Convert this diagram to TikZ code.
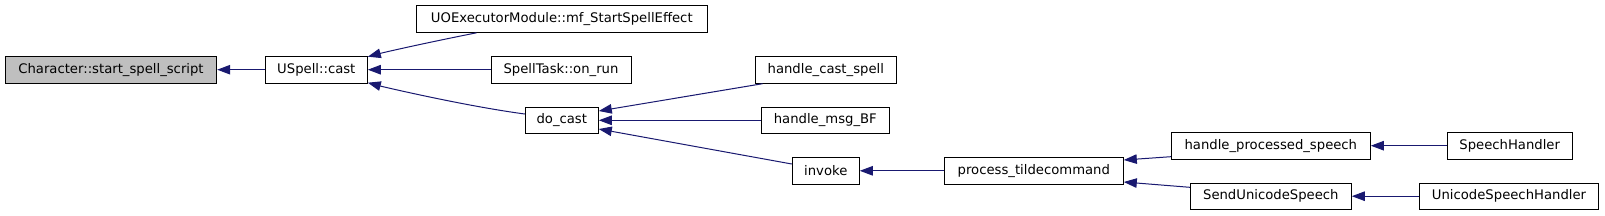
\documentclass[tikz,border=0pt]{standalone}
\usepackage{fontspec}
\setmainfont{DejaVu Sans}
\usetikzlibrary{arrows.meta}
\definecolor{edgeblue}{HTML}{191970}
\definecolor{hlgray}{HTML}{BFBFBF}
\tikzset{
  fn/.style={draw=black, line width=1pt, fill=white, inner sep=0pt, minimum height=27pt, font=\fontsize{13.2}{15}\selectfont},
  edge/.style={draw=edgeblue, line width=1pt, -{Triangle[length=13pt,width=9.5pt]}},
}
\begin{document}
\begin{tikzpicture}[x=1pt,y=-1pt]
\useasboundingbox (0,0) rectangle (1605,215);
\node[fn, fill=hlgray, minimum width=211.4pt] (ch) at (111,69.7) {Character::start\_spell\_script};
\node[fn, minimum width=102pt] (cast) at (316.3,69.7) {USpell::cast};
\node[fn, minimum width=291pt] (uo) at (561.8,18.8) {UOExecutorModule::mf\_StartSpellEffect};
\node[fn, minimum width=140pt] (st) at (561,69.7) {SpellTask::on\_run};
\node[fn, minimum width=73pt, minimum height=26pt] (dc) at (561.8,120.3) {do\_cast};
\node[fn, minimum width=141pt] (hcs) at (825.8,69.7) {handle\_cast\_spell};
\node[fn, minimum width=128pt, minimum height=26pt] (hmb) at (825.3,120.3) {handle\_msg\_BF};
\node[fn, minimum width=67pt] (inv) at (825.8,170.8) {invoke};
\node[fn, minimum width=179pt] (pt) at (1033.8,170.8) {process\_tildecommand};
\node[fn, minimum width=199pt, minimum height=26.7pt] (hps) at (1270.8,145.7) {handle\_processed\_speech};
\node[fn, minimum width=125.3pt, minimum height=26.7pt] (sh) at (1509.7,145.7) {SpeechHandler};
\node[fn, minimum width=161pt, minimum height=25.7pt] (sus) at (1270.8,196.2) {SendUnicodeSpeech};
\node[fn, minimum width=179.4pt, minimum height=25.7pt] (ush) at (1509,196.2) {UnicodeSpeechHandler};
\draw[edge] (cast.west) -- (ch.east);
\draw[edge] ([xshift=60.7pt]uo.south west) .. controls +(-60,12) and +(15,-4) .. ([yshift=-1pt]cast.north east);
\draw[edge] (st.west) -- (cast.east);
\draw[edge] ([yshift=6.3pt]dc.west) .. controls +(-60,-8) and +(15,4) .. ([yshift=1pt]cast.south east);
\draw[edge] ([xshift=7.7pt]hcs.south west) -- ([yshift=9.3pt]dc.east);
\draw[edge] (hmb.west) -- (dc.east);
\draw[edge] ([yshift=6.8pt]inv.west) -- ([yshift=-8.7pt]dc.east);
\draw[edge] (pt.west) -- (inv.east);
\draw[edge] ([yshift=-11pt]hps.west) -- ([yshift=10.8pt]pt.east);
\draw[edge] ([yshift=8.9pt]sus.west) -- ([yshift=-11.2pt]pt.east);
\draw[edge] (sh.west) -- (hps.east);
\draw[edge] (ush.west) -- (sus.east);
\end{tikzpicture}
\end{document}
